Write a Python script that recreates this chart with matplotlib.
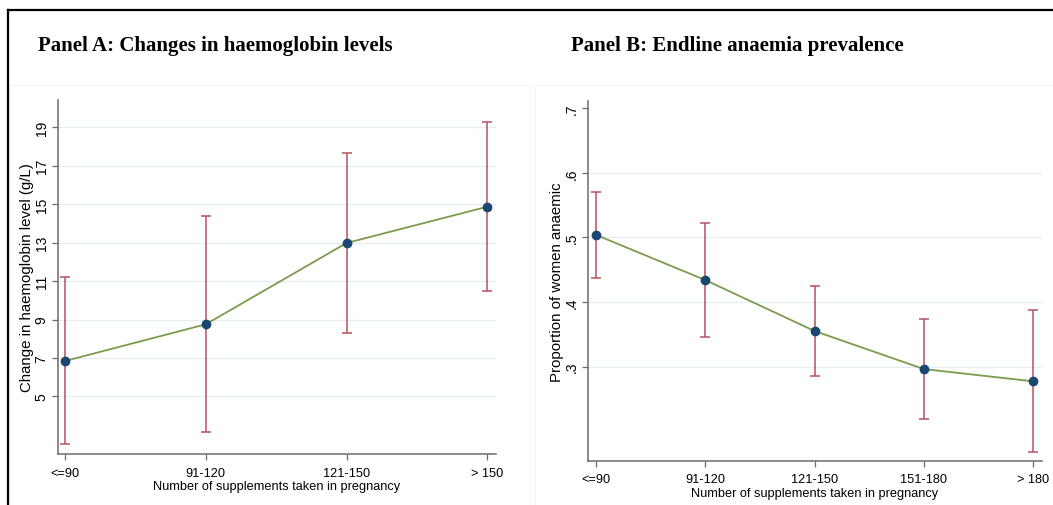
import matplotlib
matplotlib.use("Agg")
import matplotlib.pyplot as plt
from matplotlib.patches import Rectangle
from matplotlib.lines import Line2D

# ---------------- data ----------------
cats_a = ["<=90", "91-120", "121-150", "> 150"]
hb_mean = [6.84, 8.75, 12.98, 14.87]
hb_low = [2.52, 3.16, 8.30, 10.46]
hb_high = [11.21, 14.39, 17.65, 19.29]
ticks_a = [5, 7, 9, 11, 13, 15, 17, 19]
ticklabels_a = ["5", "7", "9", "11", "13", "15", "17", "19"]

cats_b = ["<=90", "91-120", "121-150", "151-180", "> 180"]
anaemic_mean = [0.504, 0.434, 0.355, 0.296, 0.277]
anaemic_low = [0.4375, 0.346, 0.286, 0.219, 0.168]
anaemic_high = [0.571, 0.522, 0.425, 0.374, 0.387]
ticks_b = [0.3, 0.4, 0.5, 0.6, 0.7]
ticklabels_b = [".3", ".4", ".5", ".6", ".7"]

title_a = "Panel A: Changes in haemoglobin levels"
title_b = "Panel B: Endline anaemia prevalence"
xlabel = "Number of supplements taken in pregnancy"
ylabel_a = "Change in haemoglobin level (g/L)"
ylabel_b = "Proportion of women anaemic"

# ---------------- style ----------------
W, H = 1053, 506
LINE_C = "#7a9c4c"
ERR_C = "#b5525f"
MARK_C = "#1a476f"
GRID_C = "#e4edf1"
SPINE_C = "#6b6b6b"
XFS = 9.2
YTFS = 10.0
YLFS = 10.8
FONT = "Liberation Sans"

fig = plt.figure(figsize=(W / 100, H / 100), dpi=100)
fig.patch.set_facecolor("white")

# very faint panel frames
fig.add_artist(Rectangle((9 / W, 0), (521 / W), 1 - 86 / H, transform=fig.transFigure,
                         facecolor="white", edgecolor="#f4f4f4", lw=0.6, zorder=0))
fig.add_artist(Rectangle((535 / W, 0), (518 / W), 1 - 86 / H, transform=fig.transFigure,
                         facecolor="white", edgecolor="#f4f4f4", lw=0.6, zorder=0))

# border lines (top and left)
fig.add_artist(Line2D([8 / W, 1], [1 - 11 / H, 1 - 11 / H], transform=fig.transFigure,
                      color="black", lw=1.6))
fig.add_artist(Line2D([8 / W, 8 / W], [0, 1 - 11 / H], transform=fig.transFigure,
                      color="black", lw=1.6))


def style_axes(ax, ticks, ticklabels, cats, ylabel, ylpad):
    ax.set_facecolor("none")
    for s in ["top", "right"]:
        ax.spines[s].set_visible(False)
    for s in ["left", "bottom"]:
        ax.spines[s].set_color(SPINE_C)
        ax.spines[s].set_linewidth(1.1)
    ax.set_yticks(ticks)
    ax.set_yticklabels(ticklabels, rotation=90, va="center", fontsize=YTFS, family=FONT)
    ax.set_xticks(range(len(cats)))
    ax.set_xticklabels(cats, fontsize=XFS, family=FONT)
    ax.tick_params(axis="both", direction="out", length=4, width=0.9, color=SPINE_C)
    ax.tick_params(axis="x", pad=5.2)
    ax.tick_params(axis="y", pad=3)
    ax.grid(axis="y", color=GRID_C, lw=0.9)
    ax.set_axisbelow(True)
    ax.set_xlabel(xlabel, fontsize=XFS, family=FONT, labelpad=1.2)
    ax.set_ylabel(ylabel, fontsize=YLFS, family=FONT, labelpad=ylpad)


def draw(ax, means, lows, highs):
    x = list(range(len(means)))
    ax.plot(x, means, color=LINE_C, lw=1.3, zorder=3)
    ax.errorbar(x, means, yerr=[[m - l for m, l in zip(means, lows)],
                                [h - m for m, h in zip(means, highs)]],
                fmt="none", ecolor=ERR_C, elinewidth=1.1, capsize=3.5, capthick=1.1,
                zorder=4)
    ax.scatter(x, means, s=36, color=MARK_C, edgecolor=MARK_C, zorder=5)


# Panel A
axA = fig.add_axes([58.3 / W, 1 - 455 / H, (495.7 - 58.3) / W, (455 - 100.7) / H])
draw(axA, hb_mean, hb_low, hb_high)
style_axes(axA, ticks_a, ticklabels_a, cats_a, ylabel_a, 0.4)
axA.set_xlim(-0.048, 3.06)
axA.set_ylim(2.0, 20.44)

# Panel B
axB = fig.add_axes([588.3 / W, 1 - 461.7 / H, (1041.7 - 588.3) / W, (461.7 - 101.7) / H])
draw(axB, anaemic_mean, anaemic_low, anaemic_high)
style_axes(axB, ticks_b, ticklabels_b, cats_b, ylabel_b, 0.6)
axB.set_xlim(-0.07, 4.077)
axB.set_ylim(0.154, 0.712)
axB.get_ygridlines()[-1].set_visible(False)

# titles
fig.text(38 / W, 1 - 46 / H, title_a, fontsize=15, fontweight="bold",
         family="Liberation Serif", ha="left", va="center")
fig.text(571 / W, 1 - 46 / H, title_b, fontsize=15, fontweight="bold",
         family="Liberation Serif", ha="left", va="center")

fig.savefig("out.png", dpi=100)
